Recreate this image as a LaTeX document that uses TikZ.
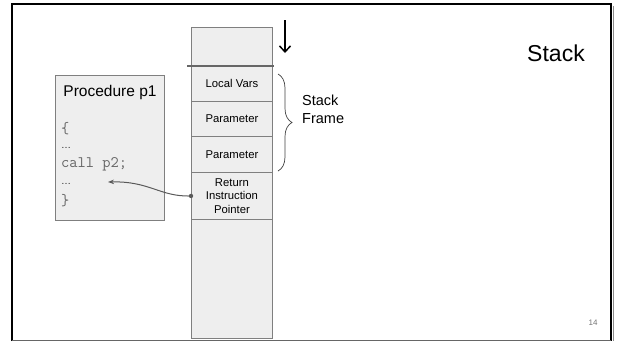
\documentclass[tikz,border=0pt]{standalone}
\usepackage{fontspec}
\setmainfont{Liberation Sans}
\usetikzlibrary{arrows.meta,decorations.pathreplacing}

\definecolor{cellfill}{HTML}{EEEEEE}
\definecolor{celledge}{HTML}{7F7F7F}
\definecolor{codegrey}{HTML}{666666}
\definecolor{wiregrey}{HTML}{595959}

\tikzset{
  cell/.style={draw=celledge, fill=cellfill, line width=0.9pt, inner sep=0pt,
    minimum width=81pt, anchor=north west, align=center,
    font=\fontsize{11.3}{13.6}\selectfont},
  procbox/.style={draw=celledge, fill=cellfill, line width=0.9pt, inner sep=0pt,
    minimum width=109pt, minimum height=145pt, anchor=north west},
  codeline/.style={anchor=west, inner sep=0pt, text=codegrey,
    font=\ttfamily\fontsize{16}{18}\selectfont},
  codedots/.style={anchor=west, inner sep=0pt, text=black!85,
    font=\fontsize{10}{11}\selectfont},
}

\begin{document}
\begin{tikzpicture}[x=1pt, y=-1pt]
  \useasboundingbox (0,0) rectangle (620,341);

  % slide frame
  \draw[line width=2.5pt, black] (12,341) -- (12,4) -- (611,4) -- (611,341);
  \draw[line width=1pt, black!45] (613.5,6) -- (613.5,341);
  \draw[line width=0.8pt, black!60] (12,340) -- (611,340);

  % title and page number
  \node[font=\fontsize{23}{27}\selectfont] (title) at (556,53) {Stack};
  \node[font=\fontsize{8}{10}\selectfont, text=black!55] (pageno) at (593,323) {14};

  % procedure p1
  \node[procbox] (proc) at (55,75) {};
  \node[font=\fontsize{15.5}{18}\selectfont, inner sep=0pt] (ptitle) at (110,92) {Procedure p1};
  \node[codeline] (c1) at (61,129) {\{};
  \node[codedots] (c2) at (61,148) {…};
  \node[codeline] (c3) at (61,164) {call p2;};
  \node[codedots] (c4) at (61,184) {…};
  \node[codeline] (c5) at (61,201) {\}};

  % the stack column
  \node[cell, minimum height=39pt]  (top)  at (191,27)  {};
  \node[cell, minimum height=35pt]  (lv)   at (191,66)  {Local Vars};
  \node[cell, minimum height=35pt]  (par1) at (191,101) {Parameter};
  \node[cell, minimum height=36pt]  (par2) at (191,136) {Parameter};
  \node[cell, minimum height=47pt]  (rip)  at (191,172) {Return\\Instruction\\Pointer};
  \node[cell, minimum height=119pt] (free) at (191,219) {};

  % stack pointer marker
  \coordinate (spl) at (187,66);
  \coordinate (spr) at (274,66);
  \draw[line width=2.2pt, black!60] (spl) -- (spr);

  % growth direction
  \coordinate (gtop) at (285,20);
  \coordinate (gbot) at (285,53);
  \draw[line width=1.5pt, -{Straight Barb[length=6pt, width=11pt, line width=1.5pt]}] (gtop) -- (gbot);

  % stack frame brace
  \coordinate (bt) at (278,74);
  \coordinate (bb) at (278,171);
  \draw[line width=0.7pt, black!75, decorate, decoration={brace, amplitude=14pt}] (bt) -- (bb);
  \node[anchor=west, align=left, inner sep=0pt, font=\fontsize{14.5}{18}\selectfont] (sf) at (302,109) {Stack\\Frame};

  % return address link
  \coordinate (ret) at (108,182);
  \fill[wiregrey] (rip.west) circle (2.2pt);
  \draw[wiregrey, line width=1pt, -{Stealth[length=6pt, width=4.5pt]}]
    (rip.west) .. controls (160,197) and (150,181) .. (ret);
\end{tikzpicture}
\end{document}
